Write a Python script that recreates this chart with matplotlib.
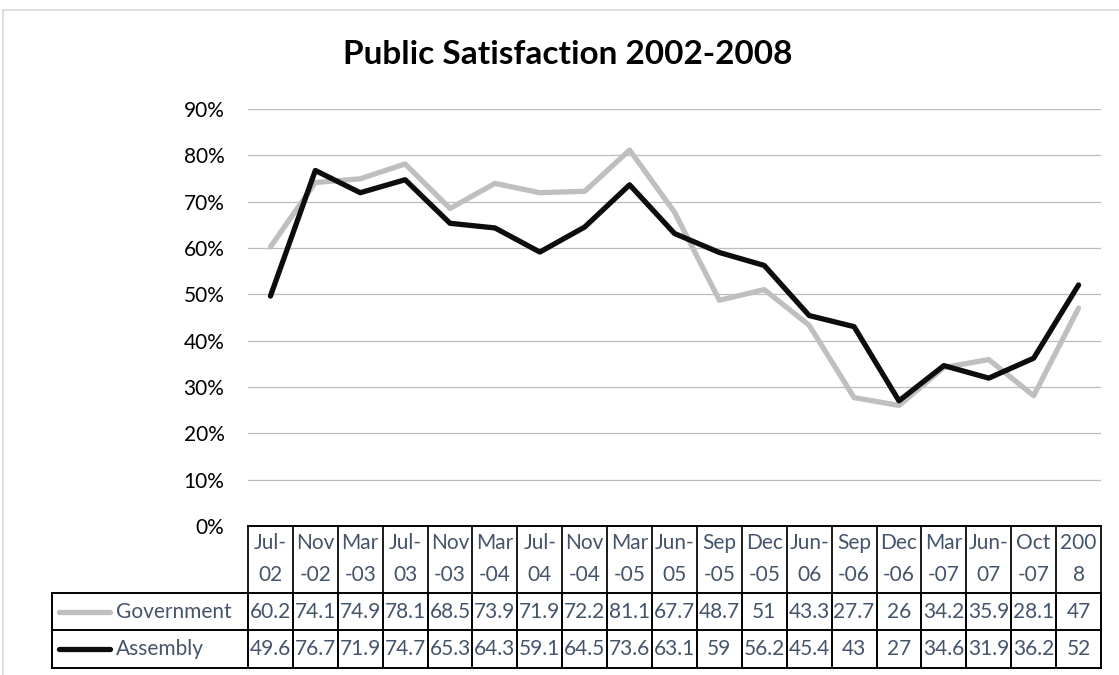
import matplotlib
matplotlib.use("Agg")
import matplotlib.pyplot as plt
import matplotlib.transforms as mtransforms
from matplotlib.lines import Line2D

# data
categories = ["Jul-\n02", "Nov\n-02", "Mar\n-03", "Jul-\n03", "Nov\n-03", "Mar\n-04",
              "Jul-\n04", "Nov\n-04", "Mar\n-05", "Jun-\n05", "Sep\n-05", "Dec\n-05",
              "Jun-\n06", "Sep\n-06", "Dec\n-06", "Mar\n-07", "Jun-\n07", "Oct\n-07", "200\n8"]
government = [60.2, 74.1, 74.9, 78.1, 68.5, 73.9, 71.9, 72.2, 81.1, 67.7,
              48.7, 51, 43.3, 27.7, 26, 34.2, 35.9, 28.1, 47]
assembly = [49.6, 76.7, 71.9, 74.7, 65.3, 64.3, 59.1, 64.5, 73.6, 63.1,
            59, 56.2, 45.4, 43, 27, 34.6, 31.9, 36.2, 52]
series_names = ["Government", "Assembly"]
series_colors = ["#BFBFBF", "#0D0D0D"]
yticks = [0, 10, 20, 30, 40, 50, 60, 70, 80, 90]

W, H = 1119, 675
plt.rcParams["font.family"] = ["Lato", "DejaVu Sans"]
text_col = "#44546A"

fig = plt.figure(figsize=(W / 100, H / 100), dpi=100)

# pixel helpers (from top-left)
def fx(px):
    return px / W

def fy(py):
    return 1 - py / H

ax_left, ax_right, ax_top, ax_bottom = 248, 1101, 108.8, 526
ax = fig.add_axes([fx(ax_left), fy(ax_bottom), (ax_right - ax_left) / W, (ax_bottom - ax_top) / H])

# chart area border
fig.add_artist(Line2D([fx(3), fx(3)], [fy(10), -0.1], color="#D9D9D9", lw=1.2, transform=fig.transFigure))
fig.add_artist(Line2D([fx(3), 1.1], [fy(10), fy(10)], color="#D9D9D9", lw=1.2, transform=fig.transFigure))

x = list(range(len(categories)))
for vals, name, col in zip([government, assembly], series_names, series_colors):
    ax.plot(x, [v / 100 for v in vals], color=col, lw=3.8,
            solid_joinstyle="round", solid_capstyle="round", zorder=3)

ax.set_xlim(-0.5, len(categories) - 0.5)
ax.set_ylim(0, 0.9)
ax.set_yticks([t / 100 for t in yticks])
ax.set_yticklabels([f"{t}%" for t in yticks], fontsize=15, color="#000000")
ax.tick_params(axis="y", length=0, pad=17)
ax.set_xticks([])
for t in ax.get_yticks()[1:]:
    ax.axhline(t, color="#BDBDBD", lw=0.9, zorder=1)
for s in ax.spines.values():
    s.set_visible(False)

fig.text(fx(568), fy(55), "Public Satisfaction 2002-2008", ha="center", va="center",
         fontsize=24, fontweight="bold", color="#000000")

# data table below the plot, columns follow the x scale
trans = mtransforms.blended_transform_factory(ax.transData, fig.transFigure)
n = len(categories)
hdr_top, hdr_bot = 526, 593
row_lines = [593, 630, 668]
tbl_lw = 1.4

for i in range(n + 1):
    xe = i - 0.5
    ax.add_artist(Line2D([xe, xe], [fy(hdr_top), fy(hdr_bot)], color="#1A1A1A", lw=tbl_lw,
                         transform=trans, clip_on=False))
    ax.add_artist(Line2D([xe, xe], [fy(row_lines[0]), fy(row_lines[-1])], color="#000000", lw=tbl_lw,
                         transform=trans, clip_on=False))
ax.add_artist(Line2D([-0.5, n - 0.5], [fy(hdr_top), fy(hdr_top)], color="#000000", lw=tbl_lw,
                     transform=trans, clip_on=False))
for ry in row_lines:
    fig.add_artist(Line2D([fx(52), fx(ax_right)], [fy(ry), fy(ry)], color="#000000", lw=tbl_lw,
                          transform=fig.transFigure))
fig.add_artist(Line2D([fx(52), fx(52)], [fy(row_lines[0]), fy(row_lines[-1])], color="#000000",
                      lw=tbl_lw, transform=fig.transFigure))

for i, lab in enumerate(categories):
    top, bot = lab.split("\n")
    ax.text(i, fy(543), top, transform=trans, ha="center", va="center", fontsize=15, color=text_col)
    ax.text(i, fy(575), bot, transform=trans, ha="center", va="center", fontsize=15, color=text_col)

for r, (vals, name, col) in enumerate(zip([government, assembly], series_names, series_colors)):
    yc = (row_lines[r] + row_lines[r + 1]) / 2
    fig.add_artist(Line2D([fx(59), fx(110)], [fy(yc), fy(yc)], color=col, lw=3.8,
                          solid_capstyle="round", transform=fig.transFigure))
    fig.text(fx(116), fy(yc), name, ha="left", va="center", fontsize=15, color=text_col)
    for i, v in enumerate(vals):
        ax.text(i, fy(yc), f"{v:g}", transform=trans, ha="center", va="center",
                fontsize=15, color=text_col)

fig.savefig("out.png", dpi=100, facecolor="white")
